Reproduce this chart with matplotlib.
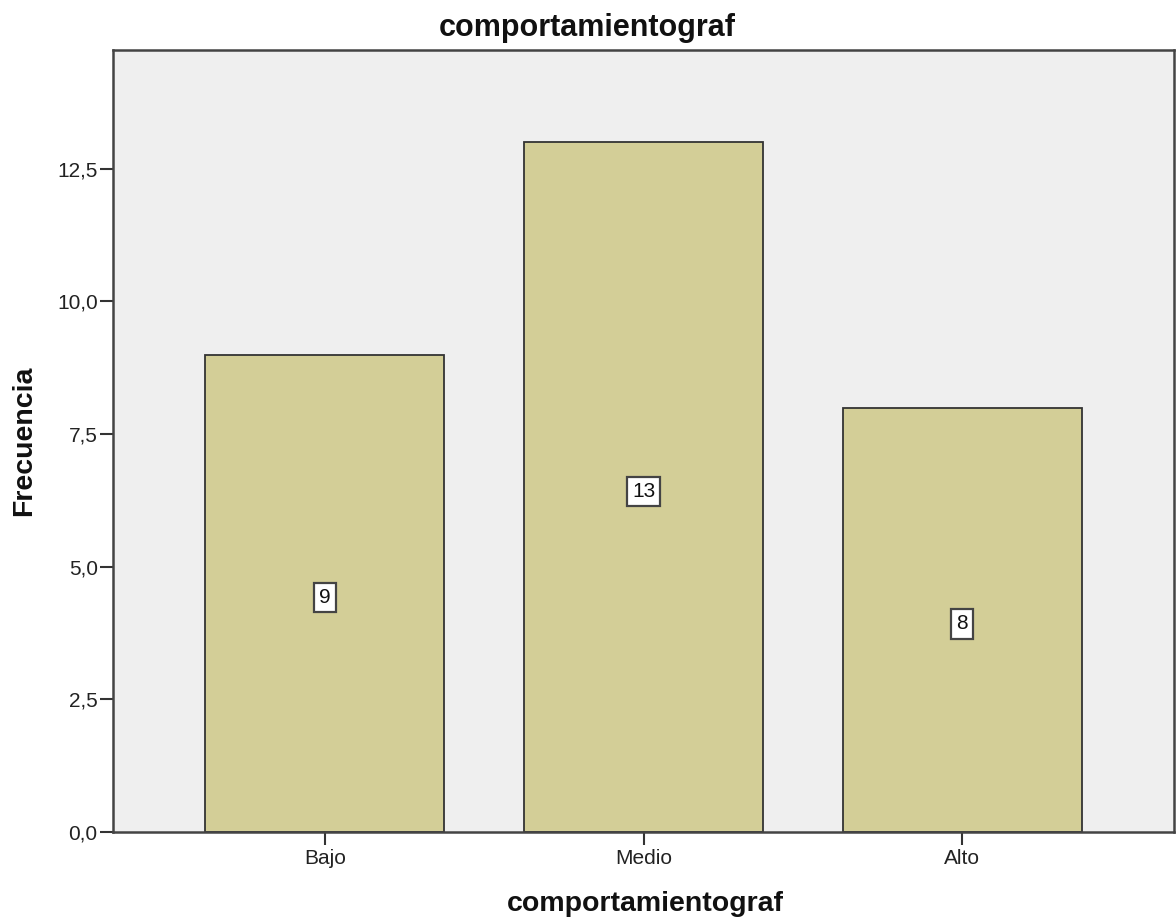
import matplotlib
matplotlib.use("Agg")
import matplotlib.pyplot as plt

categories = ["Bajo", "Medio", "Alto"]
counts = [9, 13, 8]
yticks = [0.0, 2.5, 5.0, 7.5, 10.0, 12.5]
ytick_labels = ["0,0", "2,5", "5,0", "7,5", "10,0", "12,5"]
title = "comportamientograf"
xlabel = "comportamientograf"
ylabel = "Frecuencia"

plt.rcParams['font.family'] = ['Liberation Sans', 'DejaVu Sans']

W, H = 1176, 924
fig = plt.figure(figsize=(W / 100, H / 100), dpi=100)
fig.patch.set_facecolor("white")
ax = fig.add_axes([113 / W, 1 - 832 / H, (1174 - 113) / W, (832 - 50) / H])
ax.set_facecolor("#efefef")

x = list(range(len(categories)))
bars = ax.bar(x, counts, width=0.75, color="#d3ce97", edgecolor="#333333", linewidth=1.3, zorder=2)

for xi, c in zip(x, counts):
    ax.annotate(str(c), xy=(xi, c / 2), xytext=(0, -3), textcoords="offset points",
                ha="center", va="center", fontsize=15, color="#111111", zorder=3,
                bbox=dict(boxstyle="square,pad=0.25", facecolor="white", edgecolor="#444444", linewidth=1.6))

ax.set_xlim(-0.665, 2.665)
ax.set_ylim(0, 14.74)
ax.set_xticks(x)
ax.set_xticklabels(categories)
ax.set_yticks(yticks)
ax.set_yticklabels(ytick_labels)
ax.tick_params(axis="both", direction="out", length=9.5, width=1.5, color="#333333",
               labelsize=15, labelcolor="#222222")
ax.tick_params(axis="y", pad=1.5)
ax.tick_params(axis="x", pad=3)

for s in ax.spines.values():
    s.set_color("#444444")
    s.set_linewidth(1.8)

fig.text(587 / W, 1 - 36 / H, title, ha="center", va="baseline", fontsize=22, fontweight="bold", color="#111111")
fig.text(645 / W, 1 - 911 / H, xlabel, ha="center", va="baseline", fontsize=20.5, fontweight="bold", color="#111111")
fig.text(24 / W, 1 - 441 / H, ylabel, ha="center", va="center", rotation=90, fontsize=20.5, fontweight="bold", color="#111111")

fig.savefig("out.png", dpi=100, facecolor="white")
